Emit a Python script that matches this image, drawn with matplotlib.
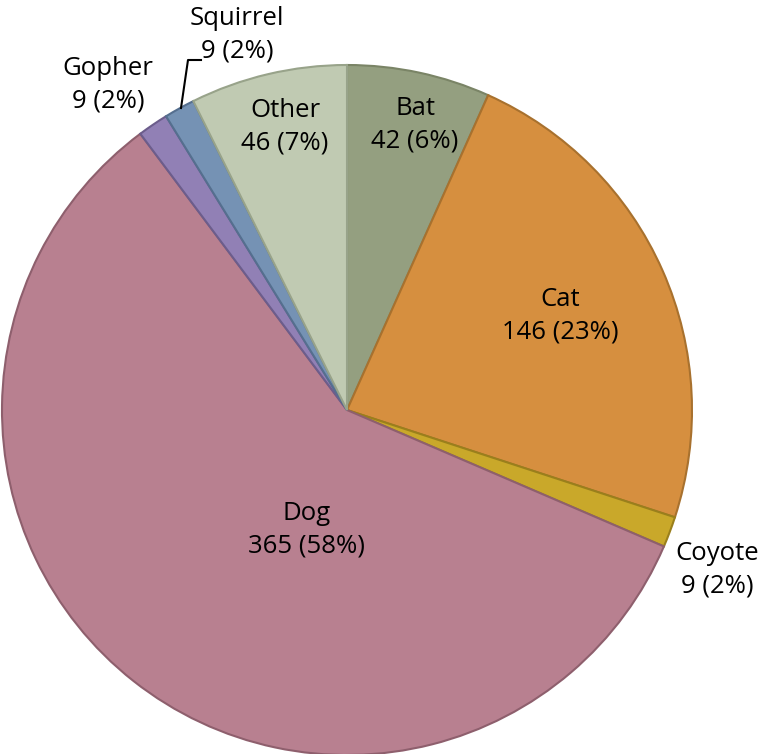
import matplotlib.pyplot as plt

# data (clockwise from 12 o'clock)
animals = ["Bat", "Cat", "Coyote", "Dog", "Gopher", "Squirrel", "Other"]
counts = [42, 146, 9, 365, 9, 9, 46]
percents = [6, 23, 2, 58, 2, 2, 7]

colors = ["#949f80", "#d68f3f", "#c9a82a", "#b88090", "#9180b5", "#7592b4", "#c0cab2"]
edges = ["#7a8466", "#a8712e", "#9a7f1c", "#8e5f6d", "#6c5d8c", "#556f8f", "#98a38a"]

# label anchor points in pixels (x, y from top)
label_pos = [(415, 125), (560, 316), (717, 570), (307, 530), (108, 85), (237, 35), (285, 127)]

W, H = 759, 754
fig = plt.figure(figsize=(W / 100, H / 100), dpi=100)
ax = fig.add_axes([0, 0, 1, 1])

cx, cy, r = 347, H - 410, 345
wedges, _ = ax.pie(counts, colors=colors, startangle=90, counterclock=False,
                   center=(cx, cy), radius=r, frame=True)
for w, ec in zip(wedges, edges):
    w.set_edgecolor(ec)
    w.set_linewidth(1.5)
ax.set_xlim(0, W)
ax.set_ylim(0, H)
ax.axis("off")

for name, n, p, (x, y) in zip(animals, counts, percents, label_pos):
    ax.text(x, H - y, f"{name}\n{n} ({p}%)", ha="center", va="center",
            fontsize=18.5, family=["Open Sans", "DejaVu Sans"], color="black",
            linespacing=1.4)

# leader line for Squirrel
ax.plot([181, 188, 201], [H - 108, H - 60, H - 60], color="black", lw=1.5)

fig.savefig("out.png", dpi=100)
